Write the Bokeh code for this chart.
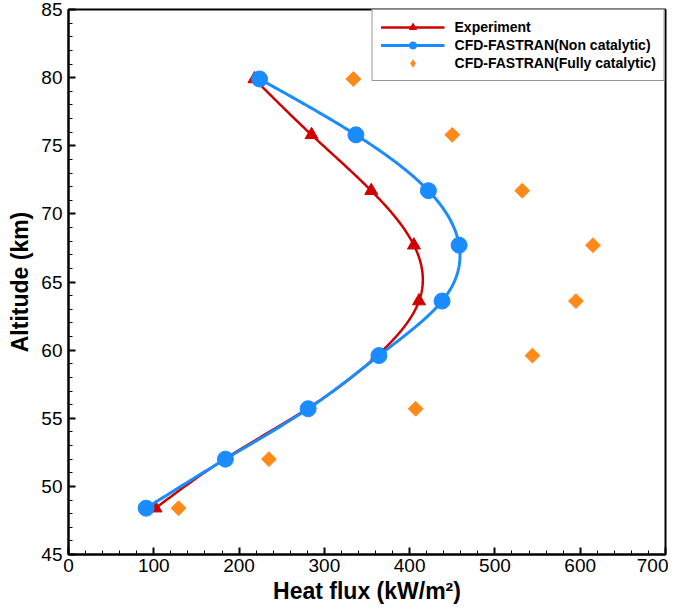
import numpy as np
from bokeh.plotting import figure
from bokeh.models import Legend, LegendItem, FixedTicker, ColumnDataSource
from bokeh.embed import file_html
from bokeh.resources import INLINE

# ---- data ----
altitude = [48.4, 52.0, 55.7, 59.6, 63.6, 67.7, 71.7, 75.8, 79.9]
experiment = [102, 183, 280, 362, 411, 405, 355, 285, 218]
non_catalytic = [91, 184, 281, 364, 438, 458, 422, 337, 224]
fully_catalytic = [129, 235, 407, 544, 595, 615, 532, 450, 334]

x_ticks = [0, 100, 200, 300, 400, 500, 600, 700]
y_ticks = [45, 50, 55, 60, 65, 70, 75, 80, 85]

RED = "#D10000"
BLUE = "#1A8CFF"
ORANGE = "#FF8A1A"
FONT = "Liberation Sans"


def natural_spline(t, v, n=40):
    """Smooth curve through the data points (natural cubic spline of v over t)."""
    t = np.asarray(t, float)
    v = np.asarray(v, float)
    k = len(t)
    h = np.diff(t)
    A = np.zeros((k, k))
    b = np.zeros(k)
    A[0, 0] = A[-1, -1] = 1.0
    for i in range(1, k - 1):
        A[i, i - 1] = h[i - 1]
        A[i, i] = 2 * (h[i - 1] + h[i])
        A[i, i + 1] = h[i]
        b[i] = 6 * ((v[i + 1] - v[i]) / h[i] - (v[i] - v[i - 1]) / h[i - 1])
    M = np.linalg.solve(A, b)
    ts, vs = [], []
    for i in range(k - 1):
        s = np.linspace(t[i], t[i + 1], n, endpoint=(i == k - 2))
        a = (t[i + 1] - s) / h[i]
        c = (s - t[i]) / h[i]
        val = (a * v[i] + c * v[i + 1]
               + ((a ** 3 - a) * M[i] + (c ** 3 - c) * M[i + 1]) * h[i] ** 2 / 6)
        ts.extend(s)
        vs.extend(val)
    return np.array(vs), np.array(ts)


p = figure(frame_width=597, frame_height=545,
           x_range=(0, 700), y_range=(45, 85),
           output_backend="svg", toolbar_location=None,
           min_border_left=68, min_border_right=3,
           min_border_top=9, min_border_bottom=45)

p.background_fill_color = "white"
p.border_fill_color = "white"
p.grid.visible = False
p.outline_line_color = "black"
p.outline_line_width = 2
p.outline_line_alpha = 1

# axes
for ax in (p.xaxis[0], p.yaxis[0]):
    ax.axis_line_width = 2
    ax.axis_line_color = "black"
    ax.major_tick_in = 7
    ax.major_tick_out = 0
    ax.major_tick_line_width = 2
    ax.minor_tick_in = 4
    ax.minor_tick_out = 0
    ax.minor_tick_line_width = 1
    ax.major_label_text_font = FONT
    ax.major_label_text_font_size = "19px"
    ax.major_label_text_color = "black"
    ax.axis_label_text_font = FONT
    ax.axis_label_text_font_size = "23px"
    ax.axis_label_text_font_style = "bold"
    ax.axis_label_text_color = "black"

p.xaxis[0].ticker = FixedTicker(ticks=x_ticks,
                                minor_ticks=[v for v in range(0, 701, 20)])
p.yaxis[0].ticker = FixedTicker(ticks=y_ticks,
                                minor_ticks=[v for v in range(45, 86)])
p.xaxis[0].axis_label = "Heat flux (kW/m\u00b2)"
p.yaxis[0].axis_label = "Altitude (km)"
p.xaxis[0].major_label_standoff = 4
p.yaxis[0].major_label_standoff = 6
p.xaxis[0].axis_label_standoff = 3
p.yaxis[0].axis_label_standoff = 5

# curves
ex_x, ex_y = natural_spline(altitude, experiment)
nc_x, nc_y = natural_spline(altitude, non_catalytic)

src_exp = ColumnDataSource(dict(x=experiment, y=altitude))
src_nc = ColumnDataSource(dict(x=non_catalytic, y=altitude))
src_fc = ColumnDataSource(dict(x=fully_catalytic, y=altitude))

r_ex_line = p.line(ex_x, ex_y, line_color=RED, line_width=2.5)
r_ex_pts = p.scatter("x", "y", source=src_exp, marker="triangle", size=13,
                     fill_color=RED, line_color=RED)
r_nc_line = p.line(nc_x, nc_y, line_color=BLUE, line_width=3)
r_nc_pts = p.scatter("x", "y", source=src_nc, marker="circle", size=16,
                     fill_color=BLUE, line_color=BLUE)
# diamond key (used by the legend); it lies fully under the rotated squares
r_fc_key = p.scatter("x", "y", source=src_fc, marker="diamond", size=13,
                     fill_color=ORANGE, line_color=ORANGE)
r_fc_pts = p.scatter("x", "y", source=src_fc, marker="square", size=10.5,
                     angle=np.pi / 4, fill_color=ORANGE, line_color=ORANGE)

legend = Legend(items=[
    LegendItem(label="Experiment", renderers=[r_ex_line, r_ex_pts]),
    LegendItem(label="CFD-FASTRAN(Non catalytic)", renderers=[r_nc_line, r_nc_pts]),
    LegendItem(label="CFD-FASTRAN(Fully catalytic)", renderers=[r_fc_key]),
], location="top_right")
legend.margin = 0
legend.padding = 8
legend.spacing = 0
legend.label_height = 18
legend.glyph_height = 18
legend.glyph_width = 64
legend.label_standoff = 10
legend.label_text_font = FONT
legend.label_text_font_size = "14px"
legend.label_text_font_style = "bold"
legend.label_text_color = "black"
legend.border_line_color = "#333333"
legend.border_line_width = 1.5
legend.background_fill_color = "white"
legend.background_fill_alpha = 1
p.add_layout(legend, "center")

open("out.html", "w").write(file_html(p, INLINE))
